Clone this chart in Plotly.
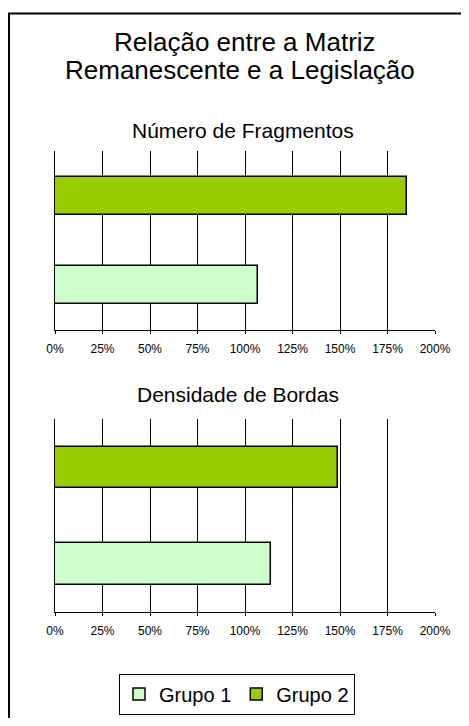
import plotly.graph_objects as go

# figure sized to fit inside the 469x726 window with the page's 8px body margin
W, H = 453, 710
OFF = 8

categories = ["Grupo 1", "Grupo 2"]
series_names = ["Grupo 1", "Grupo 2"]
frag_values = [107, 185.5]
borda_values = [113.5, 149]
tick_vals = [0, 25, 50, 75, 100, 125, 150, 175, 200]
tick_text = ["0%", "25%", "50%", "75%", "100%", "125%", "150%", "175%", "200%"]
colors = ["#CCFFCC", "#99CC00"]
FONT = "Liberation Sans, Arial"


def px(x):
    return (x - OFF) / W


def py(y):
    return 1 - (y - OFF) / H


fig = go.Figure()
for i, name in enumerate(series_names):
    fig.add_trace(go.Bar(
        x=[frag_values[i]], y=[categories[i]], orientation="h", name=name,
        marker=dict(color=colors[i], line=dict(color="black", width=1.5)),
        width=0.43, xaxis="x", yaxis="y", legendgroup=name, showlegend=True))
for i, name in enumerate(series_names):
    fig.add_trace(go.Bar(
        x=[borda_values[i]], y=[categories[i]], orientation="h", name=name,
        marker=dict(color=colors[i], line=dict(color="black", width=1.5)),
        width=0.43, xaxis="x2", yaxis="y2", legendgroup=name, showlegend=False))

xcommon = dict(range=[0, 200], tickvals=tick_vals, ticktext=tick_text,
               showgrid=True, gridcolor="#000000", gridwidth=1,
               showline=True, linecolor="black", linewidth=1,
               ticks="outside", ticklen=3, tickcolor="black",
               ticklabelstandoff=5, automargin=False,
               tickfont=dict(family=FONT, size=12, color="black"),
               zeroline=False, fixedrange=True)
ycommon = dict(categoryorder="array", categoryarray=categories, showticklabels=False,
               showline=True, linecolor="black", linewidth=1, showgrid=False,
               automargin=False,
               zeroline=False, range=[-0.5, 1.5], fixedrange=True)

fig.update_layout(
    width=W, height=H, margin=dict(l=0, r=0, t=0, b=0, pad=0, autoexpand=False),
    paper_bgcolor="white", plot_bgcolor="white",
    barmode="overlay", bargap=0,
    font=dict(family=FONT, color="black"),
    xaxis=dict(domain=[px(55), px(435)], anchor="y", **xcommon),
    yaxis=dict(domain=[py(330), py(151)], anchor="x", **ycommon),
    xaxis2=dict(domain=[px(55), px(435)], anchor="y2", **xcommon),
    yaxis2=dict(domain=[py(612), py(419)], anchor="x2", **ycommon),
    legend=dict(orientation="h", x=px(237), y=py(694), xanchor="center", yanchor="middle",
                bordercolor="black", borderwidth=1, bgcolor="white",
                font=dict(family=FONT, size=20, color="black"),
                itemwidth=30, tracegroupgap=0),
    annotations=[
        dict(text="Relação entre a Matriz", x=px(245), y=py(42),
             xref="paper", yref="paper", showarrow=False, xanchor="center", yanchor="middle",
             font=dict(size=26, family=FONT, color="black")),
        dict(text="Remanescente e a Legislação", x=px(240), y=py(70),
             xref="paper", yref="paper", showarrow=False, xanchor="center", yanchor="middle",
             font=dict(size=26, family=FONT, color="black")),
        dict(text="Número de Fragmentos", x=px(243), y=py(130), xref="paper", yref="paper",
             showarrow=False, xanchor="center", yanchor="middle",
             font=dict(size=21, family=FONT, color="black")),
        dict(text="Densidade de Bordas", x=px(238), y=py(394), xref="paper", yref="paper",
             showarrow=False, xanchor="center", yanchor="middle",
             font=dict(size=21, family=FONT, color="black")),
    ],
    shapes=[
        dict(type="rect", xref="paper", yref="paper", x0=px(9), y0=-0.05, x1=1.05, y1=py(13.5),
             line=dict(color="black", width=2), fillcolor="rgba(0,0,0,0)", layer="above"),
    ],
)

fig.write_html("out.html")
